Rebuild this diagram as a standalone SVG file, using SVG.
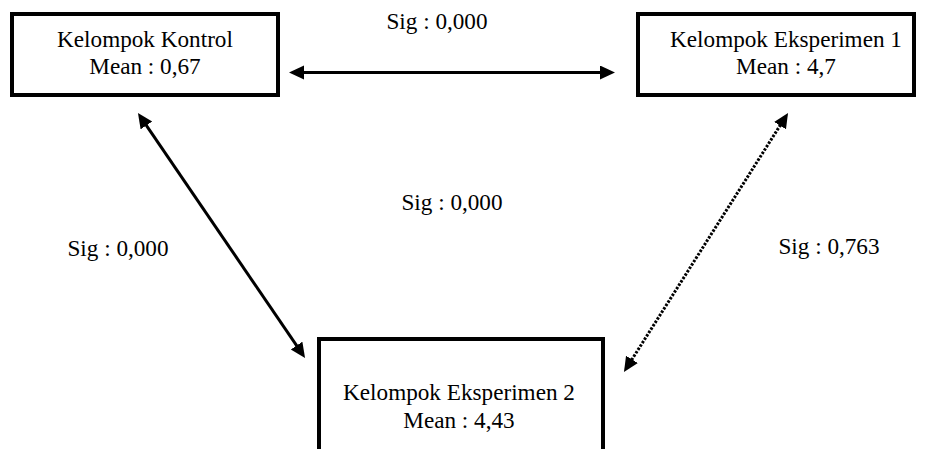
<svg xmlns="http://www.w3.org/2000/svg" width="928" height="449" viewBox="0 0 928 449">
<style>
.box{fill:#fff;stroke:#000;stroke-width:4}
.t{font-family:"Liberation Serif","Times New Roman",serif;font-size:23.2px;fill:#000;text-anchor:middle}
.c{stroke:#000;stroke-width:3;fill:none}
.dot{stroke-dasharray:2.5 1.5}
</style>
<defs>
<marker id="ah" markerUnits="userSpaceOnUse" markerWidth="16" markerHeight="15" refX="5" refY="7" orient="auto-start-reverse" viewBox="0 0 16 15">
<path d="M0,0 L15,7 L0,14 z" fill="#000"/>
</marker>
</defs>
<rect width="928" height="449" fill="#fff"/>
<g id="connectors">
<line class="c" x1="299" y1="72.5" x2="605" y2="72.5" marker-start="url(#ah)" marker-end="url(#ah)"/>
<line class="c" x1="143.6" y1="121.3" x2="299.4" y2="349.7" marker-start="url(#ah)" marker-end="url(#ah)"/>
<line class="c dot" x1="782.7" y1="121.4" x2="629.3" y2="363.6" marker-start="url(#ah)" marker-end="url(#ah)"/>
</g>
<g id="kontrol">
<rect class="box" x="12" y="14" width="266" height="81"/>
<text class="t" x="145" y="47">Kelompok Kontrol</text>
<text class="t" x="145" y="74">Mean : 0,67</text>
</g>
<g id="eksperimen1">
<rect class="box" x="638" y="14" width="276" height="81"/>
<text class="t" x="786" y="47">Kelompok Eksperimen 1</text>
<text class="t" x="786" y="74">Mean : 4,7</text>
</g>
<g id="eksperimen2">
<rect class="box" x="319" y="339" width="284" height="130"/>
<text class="t" x="459" y="400">Kelompok Eksperimen 2</text>
<text class="t" x="459" y="428">Mean : 4,43</text>
</g>
<g id="labels">
<text class="t" x="437" y="29">Sig : 0,000</text>
<text class="t" x="452" y="210">Sig : 0,000</text>
<text class="t" x="118" y="256">Sig : 0,000</text>
<text class="t" x="829" y="254">Sig : 0,763</text>
</g>
</svg>
